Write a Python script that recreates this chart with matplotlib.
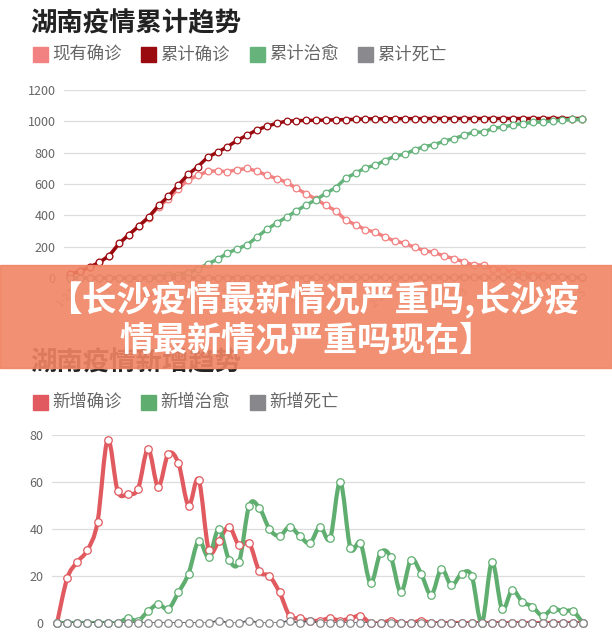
import matplotlib
matplotlib.use("Agg")
import matplotlib.pyplot as plt
import numpy as np
import pandas as pd
from matplotlib.path import Path
from matplotlib.patches import PathPatch, Rectangle

plt.rcParams['font.family'] = ['Noto Sans CJK SC', 'DejaVu Sans']

W, H = 612, 635

# dates 1-23 .. 3-15
dates = [f"{d.month}-{d.day}" for d in pd.date_range("2020-01-23", periods=53)]

# cumulative chart
current = [24, 43, 69, 100, 143, 221, 277, 330, 386, 455,
           505, 571, 626, 655, 681, 684, 678, 692, 699, 682,
           655, 635, 611, 572, 537, 503, 463, 429, 370, 340,
           309, 292, 262, 235, 222, 195, 175, 163, 140, 124,
           103, 83, 83, 57, 51, 37, 28, 21, 18, 12,
           7, 2, 2]
cum_confirmed = [24, 43, 69, 100, 143, 221, 277, 332, 389, 463,
                 521, 593, 661, 711, 772, 803, 838, 879, 912, 946,
                 968, 988, 1001, 1004, 1006, 1007, 1008, 1010, 1011, 1013,
                 1016, 1016, 1016, 1017, 1017, 1017, 1018, 1018, 1018, 1018,
                 1018, 1018, 1018, 1018, 1018, 1018, 1018, 1018, 1018, 1018,
                 1018, 1018, 1018]
cum_cured = [0, 0, 0, 0, 0, 0, 0, 2, 3, 8,
             16, 22, 35, 56, 91, 119, 159, 186, 212, 262,
             311, 351, 388, 429, 466, 500, 541, 577, 637, 669,
             703, 720, 750, 778, 791, 818, 839, 851, 874, 890,
             911, 931, 931, 957, 963, 977, 986, 993, 996, 1002,
             1007, 1012, 1012]
cum_dead = [0, 0, 0, 0, 0, 0, 0, 0, 0, 0,
            0, 0, 0, 0, 0, 0, 1, 1, 1, 2,
            2, 2, 2, 3, 3, 4, 4, 4, 4, 4,
            4, 4, 4, 4, 4, 4, 4, 4, 4, 4,
            4, 4, 4, 4, 4, 4, 4, 4, 4, 4,
            4, 4, 4]

# daily chart
new_confirmed = [0, 19, 26, 31, 43, 78, 56, 55, 57, 74,
                 58, 72, 68, 50, 61, 31, 35, 41, 33, 34,
                 22, 20, 13, 3, 2, 1, 1, 2, 1, 2,
                 3, 0, 0, 1, 0, 0, 1, 0, 0, 0,
                 0, 0, 0, 0, 0, 0, 0, 0, 0, 0,
                 0, 0, 0]
new_cured = [0, 0, 0, 0, 0, 0, 0, 2, 1, 5,
             8, 6, 13, 21, 35, 28, 40, 27, 26, 50,
             49, 40, 37, 41, 37, 34, 41, 36, 60, 32,
             34, 17, 30, 28, 13, 27, 21, 12, 23, 16,
             21, 20, 0, 26, 6, 14, 9, 7, 3, 6,
             5, 5, 0]
new_dead = [0, 0, 0, 0, 0, 0, 0, 0, 0, 0,
            0, 0, 0, 0, 0, 0, 1, 0, 0, 1,
            0, 0, 0, 1, 0, 1, 0, 0, 0, 0,
            0, 0, 0, 0, 0, 0, 0, 0, 0, 0,
            0, 0, 0, 0, 0, 0, 0, 0, 0, 0,
            0, 0, 0]

top_names = ['现有确诊', '累计确诊', '累计治愈', '累计死亡']
top_colors = ['#F28181', '#9A0B10', '#66B47C', '#8A8A8E']
bot_names = ['新增确诊', '新增治愈', '新增死亡']
bot_colors = ['#E05A5F', '#5FAE70', '#88888C']


def fx(x):
    return x / W


def fy(y):
    return 1 - y / H


def smooth_path(xs, ys):
    # catmull-rom style curve through the points
    xs = np.asarray(xs, float)
    ys = np.asarray(ys, float)
    n = len(xs)
    verts = [(xs[0], ys[0])]
    codes = [Path.MOVETO]
    for i in range(n - 1):
        a = max(i - 1, 0)
        b = min(i + 2, n - 1)
        c1 = (xs[i] + (xs[i + 1] - xs[a]) / 6, ys[i] + (ys[i + 1] - ys[a]) / 6)
        c2 = (xs[i + 1] - (xs[b] - xs[i]) / 6, ys[i + 1] - (ys[b] - ys[i]) / 6)
        verts += [c1, c2, (xs[i + 1], ys[i + 1])]
        codes += [Path.CURVE4] * 3
    return Path(verts, codes)


def style_axis(ax, yticks, xlabels=True):
    for s in ax.spines.values():
        s.set_visible(False)
    ax.set_yticks(yticks)
    ax.tick_params(axis='both', length=0, colors='#666666', labelsize=9)
    ax.tick_params(axis='y', pad=6)
    ax.tick_params(axis='x', pad=6)
    ax.grid(axis='y', color='#DDDDDD', linewidth=0.9)
    ax.set_axisbelow(True)
    ticks = list(range(0, len(dates), 4))
    ax.set_xticks(ticks)
    if xlabels:
        ax.set_xticklabels([dates[i] for i in ticks], rotation=45, ha='right',
                           va='top', rotation_mode='anchor', fontsize=8, color='#999999')
    else:
        # the daily chart's date labels fall below the picture
        ax.set_xticklabels([])


def legend(names, colors, y):
    xs = [33, 141, 250, 358]
    for name, color, x in zip(names, colors, xs):
        fig.add_artist(Rectangle((fx(x), fy(y + 7.5)), fx(15), 15 / H,
                                 transform=fig.transFigure, color=color))
        fig.text(fx(x + 19), fy(y), name, fontsize=12.5, color='#666666', va='center')


fig = plt.figure(figsize=(6.12, 6.35), dpi=100)

# top chart
ax1 = fig.add_axes([fx(64), fy(278), fx(586) - fx(64), fy(90) - fy(278)])
x = np.arange(len(dates))
ax1.set_xlim(-0.6, 52.4)
ax1.set_ylim(0, 1200)
style_axis(ax1, range(0, 1201, 200))
for vals, color in zip([current, cum_confirmed, cum_cured, cum_dead], top_colors):
    ax1.plot(x, vals, color=color, linewidth=2.5, marker='o', markersize=4.8,
             markerfacecolor='white', markeredgecolor=color, markeredgewidth=0.9,
             clip_on=False)

# bottom chart
ax2 = fig.add_axes([fx(52), fy(623), fx(585) - fx(52), fy(435) - fy(623)])
ax2.set_xlim(-0.5, 52.2)
ax2.set_ylim(0, 80)
style_axis(ax2, range(0, 81, 20), xlabels=False)
for vals, color in zip([new_confirmed, new_cured, new_dead], bot_colors):
    lw = 3.0 if color != bot_colors[2] else 1.2
    edge = color if color != bot_colors[2] else '#555555'
    ax2.add_patch(PathPatch(smooth_path(x, vals), facecolor='none', edgecolor=edge,
                            linewidth=lw, capstyle='round', joinstyle='round'))
    ax2.plot(x, vals, linestyle='none', marker='o', markersize=5.4,
             markerfacecolor='white', markeredgecolor=color, markeredgewidth=0.9,
             clip_on=False)

# titles and legends
fig.text(fx(30), fy(23.5), '湖南疫情累计趋势', fontsize=19, fontweight='heavy',
         color='#222222', va='center')
legend(top_names, top_colors, 54.5)
fig.text(fx(30), fy(363), '湖南疫情新增趋势', fontsize=19, fontweight='heavy',
         color='#222222', va='center')
legend(bot_names, bot_colors, 402)

# banner over the middle
fig.add_artist(Rectangle((0, fy(368)), 1, fy(265) - fy(368), transform=fig.transFigure,
                         color='#F08463', alpha=0.9, zorder=10))
fig.text(fx(313), fy(300), '【长沙疫情最新情况严重吗,长沙疫', fontsize=25,
         fontweight='heavy', color='white', ha='center', va='center', zorder=11)
fig.text(fx(306), fy(340), '情最新情况严重吗现在】', fontsize=24.5,
         fontweight='heavy', color='white', ha='center', va='center', zorder=11)

fig.savefig('out.png', dpi=100, facecolor='white')
